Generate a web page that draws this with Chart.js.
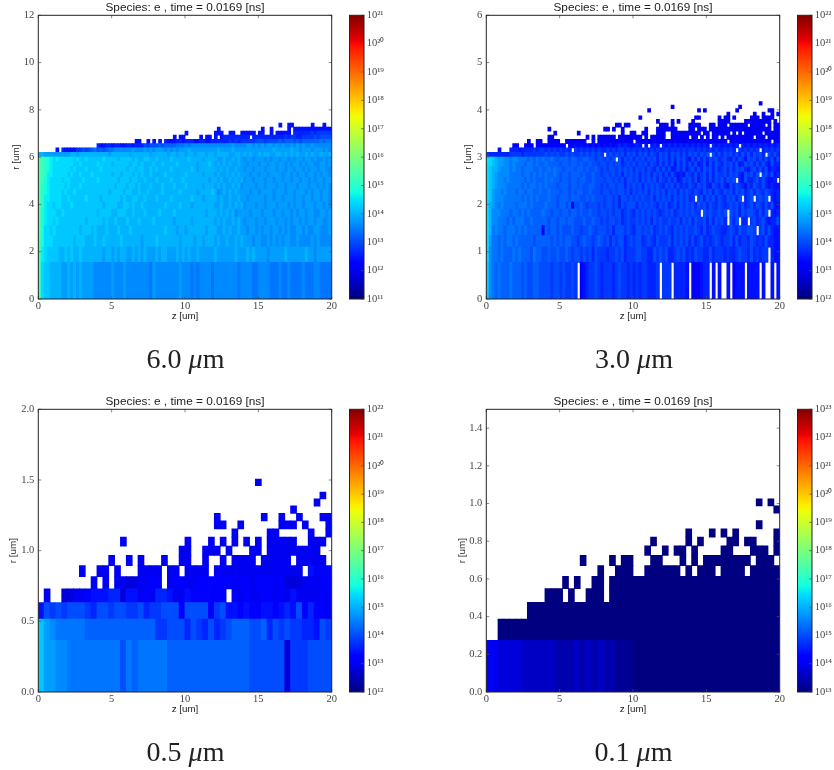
<!DOCTYPE html>
<html>
<head>
<meta charset="utf-8">
<script src="https://cdn.jsdelivr.net/npm/chart.js@4"></script>
<style>
  html, body { margin: 0; background: #fff; }
  #page { position: relative; width: 834px; height: 770px; overflow: hidden; filter: blur(0.5px); }
  canvas { position: absolute; }
  .caption { position: absolute; width: 200px; text-align: center; font: 28px "Liberation Serif", serif; color: #222; }
</style>
</head>
<body>
<div id="page"></div>
<script>
// density cells: one char per z column, log10(n) = 12 + 0.2 * base36(char), '.' = no particles
// rows run from r = 0 upward, blanks only split the string in tens
const rEdges6um = [0, 1.55, 2.192, 2.684, 3.1, 3.466, 3.797, 4.101, 4.384, 4.65, 4.902, 5.141, 5.369, 5.588, 5.8, 6.003, 6.2, 6.391, 6.576, 6.756, 6.932, 7.103, 7.27, 7.433]
const rows6um = [
  'gcbbaaaa99 a9a9a99998 8888898889 8888888879 8888888898 8878788887 8888888878 8887788887 7787787777 8777887777',
  'gdcbbbbaab abaabaaaaa aa9aa9a9aa 99a9a9a999 a9aa999a9a 9a99a99999 a999999a99 9a9a999989 9999a99999 9a99899999',
  'gecccbbbbb bbabbbaaab aabaaaaaba aaaaa9aaaa baaaaaaa9a aaa9aa9aaa 9a99a99a9a 9998998898 9898998898 8889898888',
  'heccbcbbbb bbbbabbbab aaabaaabaa abaaaaaaaa aaabaaa9aa 9aaaaaa9aa a99a9a99a9 9899898998 9989898899 8988998889',
  'hedccbcbbb bbbbbbabbb bbabaabaaa baaabaaaab aaaaaa9aaa aa9aaaaaaa 9a9a99a9a9 8999899899 9899898998 9899899889',
  'hedcccbbcb bbbbbbbbbb abbbbaabbb aabaaabaaa abaaaabaaa aaaaaaa9aa a9a9a9a899 9989998999 8998998989 9899889989',
  'hfdccbccbb bcbbbbbbbb bbabbbbaab babaabaaaa aaabaaaaba aa9aaaaaaa 99a99a9a9a 8999899899 9899989899 8999899898',
  'hfddccccbb cbbbbbcbbb babbbbbbab aabbaabaaa baaaabaaaa aabaaa9aaa a9a99a99a9 9899999899 8998999899 8998998998',
  'hfedccccbc bbcbbbbbbb bbbbabbbba bbaabaabaa aabaaaaaba aaaa9aaaab a89a9a9a99 9989989999 8999899899 9898998998',
  'hfedcccccb cbbbcbbbbb bbbbbbabbb abbabaaaba aabaaabaaa baaaaa9aaa 9a9a99a9a8 9999899899 9899899989 9989989898',
  'hgedccccbc cbbbbcbbbb cbbbbbbabb babbaabaaa baaaabaaab aaaaaaaa9a a9a99a9a9a 8998999899 8998998998 9989899899',
  'hgfddccccc bcbbcbbbcb bbbbbabbab bbababaaba aaabaaaaaa baaaaa9aaa 9a99a9a9a9 9989989989 9998998989 9899898998',
  'hgfedccccc cbcbbbcbbb bcbbbbbbbb abbabbaaba baaaabaaaa aaba9aaaaa a9a9a99a99 8998999899 9899899899 8989989988',
  'hgfedccccc ccbbcbbbbb cbbbbabbbb babbabaaab aabaaaabaa aaaa9aaaba 9a9a9a99a9 9899989989 9899898998 9899889989',
  'igfedcdccc ccbcbbcbbb bbcbbbbabb bbabaabbaa baaaabaaaa abaaaa9aaa a99a99a9a9 8998999898 9989989899 8998988989',
  'aa99999999 9aa9aaaaaa aaaa9aaaaa a9aaaaaa9a aaaa9aa9aa 9aa9aaa9aa 9aaaa99aa9 a9a99a9aa9 9aa9a9a9a9 9a9a99a99a',
  '......2.32 2224454567 5656778888 8898889898 9998989899 9a99999999 9a9999a999 9999999999 a99999a998 9998999898',
  '.......... .......... 3223323322 3323335455 5656666777 8788888888 8888889888 8998989899 8989889898 9889888888',
  '.......... .......... .......... ...22..2.2 .2.3222332 3332233223 3333343434 4444555455 5565666565 6666667677',
  '.......... .......... .......... .......... ......2.22 .....2.22. 2.23333333 33.3333333 3333434433 4444545555',
  '.......... .......... .......... .......... .......... 2......... 222..22..2 2222.22..2 .22222.333 3334344444',
  '.......... .......... .......... .......... .......... .......... .2........ ......2..2 .....2.222 2222222222',
  '.......... .......... .......... .......... .......... .......... .......... .......... ..2..22... ...2...2..'
]

const rEdges3um = [0, 0.775, 1.096, 1.342, 1.55, 1.733, 1.898, 2.05, 2.192, 2.325, 2.451, 2.57, 2.684, 2.794, 2.9, 3.002, 3.1, 3.195, 3.288, 3.378, 3.466, 3.551, 3.635, 3.717, 3.797, 3.875, 3.952, 4.027, 4.101, 4.174]
const rows3um = [
  'gdcbcbbbcb bbabaabbaa aa9aa9a99a 9.67899a98 99989a9989 898998889. 999.88887. 666788.7.7 ..7.6777.7 777.7..7.7',
  'hdccbcbbbc bcbbbacbba abaabaaba9 aa9a9a8a99 9899a9a899 9aa9988a9a 9a889a9a89 8a9988a899 989889a998 a89899.877',
  'heccbcbccb cbbbbbabbb bbabababba a9abaa9aba 9a8a9aa89a 9aa89a98a9 99a8a9a9a8 a89a8989a9 899a8a8998 a9898a8877',
  'hfcdccbccc bcbcbbbbb6 babbabaaab aa9aaba9aa a9a8aaa9a9 8aa9a9a89a 9a98a9a9a9 9a98a89a99 889a98a99a a9.9a8a877',
  'hfddcccbcb cccbbcbbbb babbabbabb aaabaabaa9 a9aa9a89a9 9a9a9a8a9a 99a99a8a9a 8a99a8a8a9 a8.a8a.88. 9a89a8788a',
  'hfdddcccbc cbcbcbbbbc bbabbabbab babaabaa9a a9a9aa89a9 8a9a9a9a98 9a9a89a9a9 a99.a9a99a 9a.a9a8a9a a98a8a.878',
  'hfedcdcccc bcccbcbbbb cbbbabbab6 aaba9aaa9a 9aa9a8a9aa a8a9a9a98a 9a89a8a9a9 a8a9a8a98a 989a9a8a89 a8a98a8a77',
  'hgedddcccc ccbcbcbcbb bcbbabbbab bbaababaaa 9aa9a8aa9a 9a9a99a8a9 a9a8a9a9a8 9.9a8a9a8a 98a9a8a.89 a.9a9a.878',
  'hgeddcdccc bccbccbbcb bcbbbabbab abbaabaaa9 aa9a9aa9a8 a9a9a8a9a9 a8a9a8a9a9 8a98a9a8a9 8a9a8a9a89 a8a98a9878',
  'hgfedddccc ccbcbccbcb cbbbabbbab babaabbaa9 a9aa9aa8a9 a9a8a9a9a9 8a9a8a898a 98a9a87a98 a87a8a9879 8a98a87877',
  'hgfeddcdcc cccbcbcbbb cbcbbabbab babbaabaaa 9aa9a9a8aa 9a8a9a9a8a 98a8a78a9a 8a79a8a8a9 a8a9a.87a8 89a8a8778.',
  'hgfeddddcc ccbccbcbcb cbbcbabbab bbabaabaa9 aa9a9a8a9a 9a8a9a8a9a 8a8a8787a9 8a89a8a8a9 9a8a9a87a9 a8a.9a8a78',
  'hgffedddcd ccbcccbbcb bcbcbbabbb abbabaaba9 a9aa9a9a9a 8a9a8a98a8 a8a78a8a79 a8a8a9a8a8 9a8a8a9a87 9a8a8a7887',
  'hhgfeeddcd cccbccbcbb cbbbbabbab babaabaa9a a9a9aa89a9 a8a9a8a98a 8a8a7a8a8a 8a78a7a8a9 8a9a8a78a9 a8a8a87a88',
  'ihgfeeddcd dcccbcbcbc bbcbabbbab baabbaa9aa 9a9a.a8a9a 8a9a8a9a8a 9a8a8a9a87 a8a8a8a9a8 9a87a8a97a 9a8a8a8a7a',
  '9888888899 9989999999 a9a9a99a9a 99a9a9a9a9 .9a9a9a8a9 a8a9a8a98a 9a8a9a8a8a 9a8a9a.a8a 8a9a8a8a8a 8a9a8.a8a8',
  '....7...88 8788889899 898989898. 9898989898 8989899898 9898989898 8989898989 9898989898 89898.9898 989.898989',
  '.........6 6..666.666 6666666.66 7676767676 7676787877 787.7.787. 8787878787 878787.878 787878.878 7878787878',
  '.......... ....5..55. .5555..555 5656..6.56 5656565656 .656565656 6565656565 6565656565 66.6565656 5656565.56',
  '.......... .......... .55....... ....5.5.55 5555.55555 555.5.5555 5..555555. 55.5.5.55. 5.55555555 5.555.5555',
  '.......... .......... ...5...... .5........ ......5..5 5..55...55 5..5555555 555.55.555 555.5.5.55 5555.55555',
  '.......... .......... .5........ .......... 55.5..5... ....5...55 55555....5 5.555.5555 5555555555 5555555.55',
  '.......... .......... .......... .......... ....55.55. .........5 55.5.....5 555...55.5 55.555555. 55555.5.55',
  '.......... .......... .......... .......... .......... ........5. ...5.5.... 5........5 555.....55 5555555.5.',
  '.......... .......... .......... .......... .......... ..5....... .......... .55......5 .55.5..... 555.5555..',
  '.......... .......... .......... .......... .......... .......... .......... .......... ..5....... .5..5..5.5',
  '.......... .......... .......... .......... .......... .....5.... .......... ..5.5..... .....5.... ......55..',
  '.......... .......... .......... .......... .......... .......... ...5...... .......... ......5... ..........',
  '.......... .......... .......... .......... .......... .......... .......... .......... .......... ...5......'
]

const rEdges05um = [0, 0.365, 0.516, 0.632, 0.73, 0.816, 0.894, 0.966, 1.032, 1.095, 1.154, 1.211, 1.264, 1.316, 1.366, 1.414, 1.46, 1.505]
const rows05um = [
  'geeddccccc ccccacbccc ccbbbbbbbb bbbbbbaaaa aa4999aaaa',
  'gedcccccbb bbbbbbbbbb 99aaa8a98a 89abbbaab8 a9a99887a9',
  '7a9a9aaa98 aa9aa99a89 9aaa6aaaa6 9a77676677 6787a68665',
  '.5..445567 7788477565 8875576666 66.6565566 5657555565',
  '.........5 .5.5544556 6.56655666 6666665666 5644455566',
  '.......5.. 55.5...555 5.55.5555. 5555555555 55555.7666',
  '.......... ..5..5.5.. .5..55..5. .5.5555.55 555.55555.',
  '.......... .......... ....55..55 5.5...55.5 55555555..',
  '.......... ....5..... .....5...5 .5.5.5.5.5 5555..555.',
  '.......... .......... .......... ...5.....5 5.....5..5',
  '.......... .......... .......... 55..5..... .555.5...5',
  '.......... .......... .......... 5.......5. .5..5...55',
  '.......... .......... .......... .......... ...5......',
  '.......... .......... .......... .......... .......5..',
  '.......... .......... .......... .......... ........5.',
  '.......... .......... .......... .......... ..........',
  '.......... .......... .......... .......5.. ..........'
]

const rEdges01um = [0, 0.274, 0.387, 0.475, 0.548, 0.613, 0.671, 0.725, 0.775, 0.822, 0.866, 0.909, 0.949, 0.988, 1.025]
const rows01um = [
  'ba99998888 8877787878 7766655555 5555555555 5555555555',
  '..55555555 5555555555 5555555555 5555555555 5555555555',
  '.......555 5555555555 5555555555 5555555555 5555555555',
  '.......... 555.5..555 .555555555 5555555555 5555555555',
  '.......... ...5.5..55 .555555555 5555555555 5555555555',
  '.......... .........5 ..555..555 555.5.555. 5555.55555',
  '.......... ......5... .5.55...55 ...5.5.555 55555.555.',
  '.......... .......... .......5.. 5.55.5.... 55...555.5',
  '.......... .......... ........5. ....5.5... .55.55...5',
  '.......... .......... .......... ....5...5. 5.5......5',
  '.......... .......... .......... .......... ......5...',
  '.......... .......... .......... .......... ..........',
  '.......... .......... .......... .......... .........5',
  '.......... .......... .......... .......... ......5.5.'
]

const zTicksStep = 5
const titleText = 'Species: e , time = 0.0169 [ns]'
const captions = ['6.0', '3.0', '0.5', '0.1']
const colorbarLow = [11, 12, 12, 13]
const colorbarHigh = [21, 22, 22, 23]

const panels = [
  { rows: rows6um, edges: rEdges6um, colWidth: 0.2, rMax: 12, rStep: 2, digits: 0, left: 0, top: 0, plotH: 284, rTitleX: 16.7 },
  { rows: rows3um, edges: rEdges3um, colWidth: 0.2, rMax: 6, rStep: 1, digits: 0, left: 448, top: 0, plotH: 284, rTitleX: 20.7 },
  { rows: rows05um, edges: rEdges05um, colWidth: 0.4, rMax: 2, rStep: 0.5, digits: 1, left: 0, top: 394, plotH: 283, rTitleX: 13.3 },
  { rows: rows01um, edges: rEdges01um, colWidth: 0.4, rMax: 1.5, rStep: 0.2, digits: 1, left: 448, top: 394, plotH: 283, rTitleX: 14 }
]

const page = document.getElementById('page')
const serif = '"Liberation Serif", serif'
const sans = '"Liberation Sans", sans-serif'
const tickColor = '#444'

const jetStops = {
  r: [[0, 0], [0.35, 0], [0.66, 1], [0.89, 1], [1, 0.5]],
  g: [[0, 0], [0.125, 0], [0.375, 1], [0.64, 1], [0.91, 0], [1, 0]],
  b: [[0, 0.5], [0.11, 1], [0.34, 1], [0.65, 0], [1, 0]]
}
const jetChannel = (stops, t) => {
  for (let i = 1; i < stops.length; i++) {
    if (t <= stops[i][0]) {
      const [x0, y0] = stops[i - 1]
      const [x1, y1] = stops[i]
      return Math.round(255 * (y0 + ((y1 - y0) * (t - x0)) / (x1 - x0)))
    }
  }
  return Math.round(255 * stops[stops.length - 1][1])
}
const jet = (value, low, high) => {
  const t = Math.min(1, Math.max(0, (value - low) / (high - low)))
  return `rgb(${jetChannel(jetStops.r, t)},${jetChannel(jetStops.g, t)},${jetChannel(jetStops.b, t)})`
}

const addCanvas = (left, top, width, height) => {
  const canvas = document.createElement('canvas')
  canvas.width = width
  canvas.height = height
  canvas.style.left = `${left}px`
  canvas.style.top = `${top}px`
  page.appendChild(canvas)
  return canvas
}

// frame and the small inward ticks, read back from the chart's own scales
const frameTicks = {
  id: 'frameTicks',
  afterDatasetsDraw(chart, _, opts) {
    const { ctx, chartArea: area } = chart
    ctx.save()
    ctx.strokeStyle = '#555'
    ctx.lineWidth = 0.7
    ctx.beginPath()
    if (opts.both) {
      chart.scales.x.ticks.forEach((tick) => {
        const x = chart.scales.x.getPixelForValue(tick.value)
        ctx.moveTo(x, area.bottom)
        ctx.lineTo(x, area.bottom - 3)
        ctx.moveTo(x, area.top)
        ctx.lineTo(x, area.top + 3)
      })
    }
    chart.scales.y.ticks.forEach((tick) => {
      const y = chart.scales.y.getPixelForValue(tick.value)
      ctx.moveTo(area.right, y)
      ctx.lineTo(area.right - 3, y)
      if (opts.both) {
        ctx.moveTo(area.left, y)
        ctx.lineTo(area.left + 3, y)
      }
    })
    ctx.stroke()
    ctx.strokeStyle = '#222'
    ctx.lineWidth = 1
    ctx.strokeRect(area.left, area.top, area.right - area.left, area.bottom - area.top)
    ctx.restore()
  }
}

const parseRow = (row) => row.replace(/ /g, '').split('')

const makeCellDatasets = (panel, low, high) =>
  panel.rows.map((row, r) => {
    const cells = []
    parseRow(row).forEach((code, col) => {
      if (code === '.') return
      cells.push({
        x: (col + 0.5) * panel.colWidth,
        y: [panel.edges[r], panel.edges[r + 1]],
        v: 12 + 0.2 * parseInt(code, 36)
      })
    })
    return {
      data: cells,
      backgroundColor: cells.map((cell) => jet(cell.v, low, high)),
      borderWidth: 0,
      inflateAmount: 0.4,
      grouped: false,
      barPercentage: 1,
      categoryPercentage: 1
    }
  })

const createPanel = (panel, i) => {
  const canvas = addCanvas(panel.left, panel.top, 340, 15.3 + panel.plotH + 27)
  new Chart(canvas, {
    type: 'bar',
    data: { datasets: makeCellDatasets(panel, colorbarLow[i], colorbarHigh[i]) },
    plugins: [frameTicks],
    options: {
      responsive: false,
      animation: false,
      events: [],
      devicePixelRatio: 1,
      layout: { padding: { right: 8.3 } },
      plugins: {
        legend: { display: false },
        tooltip: { enabled: false },
        frameTicks: { both: true },
        title: {
          display: true,
          text: titleText,
          fullSize: false,
          color: '#222',
          font: { family: sans, size: 11.8, weight: 'normal', lineHeight: 1 },
          padding: { top: 1.5, bottom: 2 }
        }
      },
      scales: {
        x: {
          type: 'linear',
          offset: false,
          min: 0,
          max: 20,
          grid: { display: false, offset: false, drawTicks: false },
          border: { display: false },
          afterFit: (scale) => { scale.height = 27 },
          ticks: { stepSize: zTicksStep, maxRotation: 0, padding: 1, color: tickColor, font: { family: serif, size: 10.5 } },
          title: { display: true, text: 'z [um]', color: '#222', font: { family: sans, size: 9.8 }, padding: { top: 0, bottom: 4 } }
        },
        y: {
          min: 0,
          max: panel.rMax,
          grid: { display: false, drawTicks: false },
          border: { display: false },
          afterFit: (scale) => { scale.width = 38.3 },
          ticks: {
            stepSize: panel.rStep,
            includeBounds: false,
            padding: 4,
            color: tickColor,
            font: { family: serif, size: 10.5 },
            callback: (value) => Number(value).toFixed(panel.digits)
          },
          title: {
            display: true,
            text: 'r [um]',
            color: '#222',
            font: { family: sans, size: 9.8 },
            padding: { top: panel.rTitleX - 5.9, bottom: 0 }
          }
        }
      }
    }
  })
}

const superscripts = '⁰¹²³⁴⁵⁶⁷⁸⁹'
const decadeLabel = (value) =>
  '10' + String(value).split('').map((d) => superscripts[Number(d)]).join('')

const createColorbar = (panel, i) => {
  const low = colorbarLow[i]
  const high = colorbarHigh[i]
  const left = panel.left === 0 ? 345 : 793
  const width = panel.left === 0 ? 72 : 41
  const canvas = addCanvas(left, panel.top, width, 15.3 + panel.plotH + 10)
  const bandCount = 250
  const bands = []
  for (let b = 0; b < bandCount; b++) {
    const from = low + ((high - low) * b) / bandCount
    const to = low + ((high - low) * (b + 1)) / bandCount
    bands.push({
      data: [[from, to]],
      backgroundColor: jet((from + to) / 2, low, high),
      borderWidth: 0,
      inflateAmount: 0.4,
      grouped: false,
      barPercentage: 1,
      categoryPercentage: 1
    })
  }
  new Chart(canvas, {
    type: 'bar',
    data: { labels: [''], datasets: bands },
    plugins: [frameTicks],
    options: {
      responsive: false,
      animation: false,
      events: [],
      devicePixelRatio: 1,
      layout: { padding: { left: 4.5, top: 15.3, bottom: 10 } },
      plugins: { legend: { display: false }, tooltip: { enabled: false }, frameTicks: { both: false } },
      scales: {
        x: { display: false },
        y: {
          position: 'right',
          min: low,
          max: high,
          grid: { display: false, drawTicks: false },
          border: { display: false },
          afterFit: (scale) => { scale.width = width - 19 },
          ticks: {
            stepSize: 1,
            padding: 2.7,
            color: tickColor,
            font: { family: serif, size: 10.5 },
            callback: (value) => decadeLabel(value)
          }
        }
      }
    }
  })
}

const addCaption = (text, centerX, top) => {
  const caption = document.createElement('div')
  caption.className = 'caption'
  caption.style.left = `${centerX - 100}px`
  caption.style.top = `${top}px`
  caption.append(`${text} `)
  const mu = document.createElement('i')
  mu.innerText = 'μ'
  caption.appendChild(mu)
  caption.append('m')
  page.appendChild(caption)
}

panels.forEach((panel, i) => {
  createPanel(panel, i)
  createColorbar(panel, i)
})
addCaption(captions[0], 185.5, 343)
addCaption(captions[1], 634, 343)
addCaption(captions[2], 185.5, 736)
addCaption(captions[3], 633.5, 736)
</script>
</body>
</html>
